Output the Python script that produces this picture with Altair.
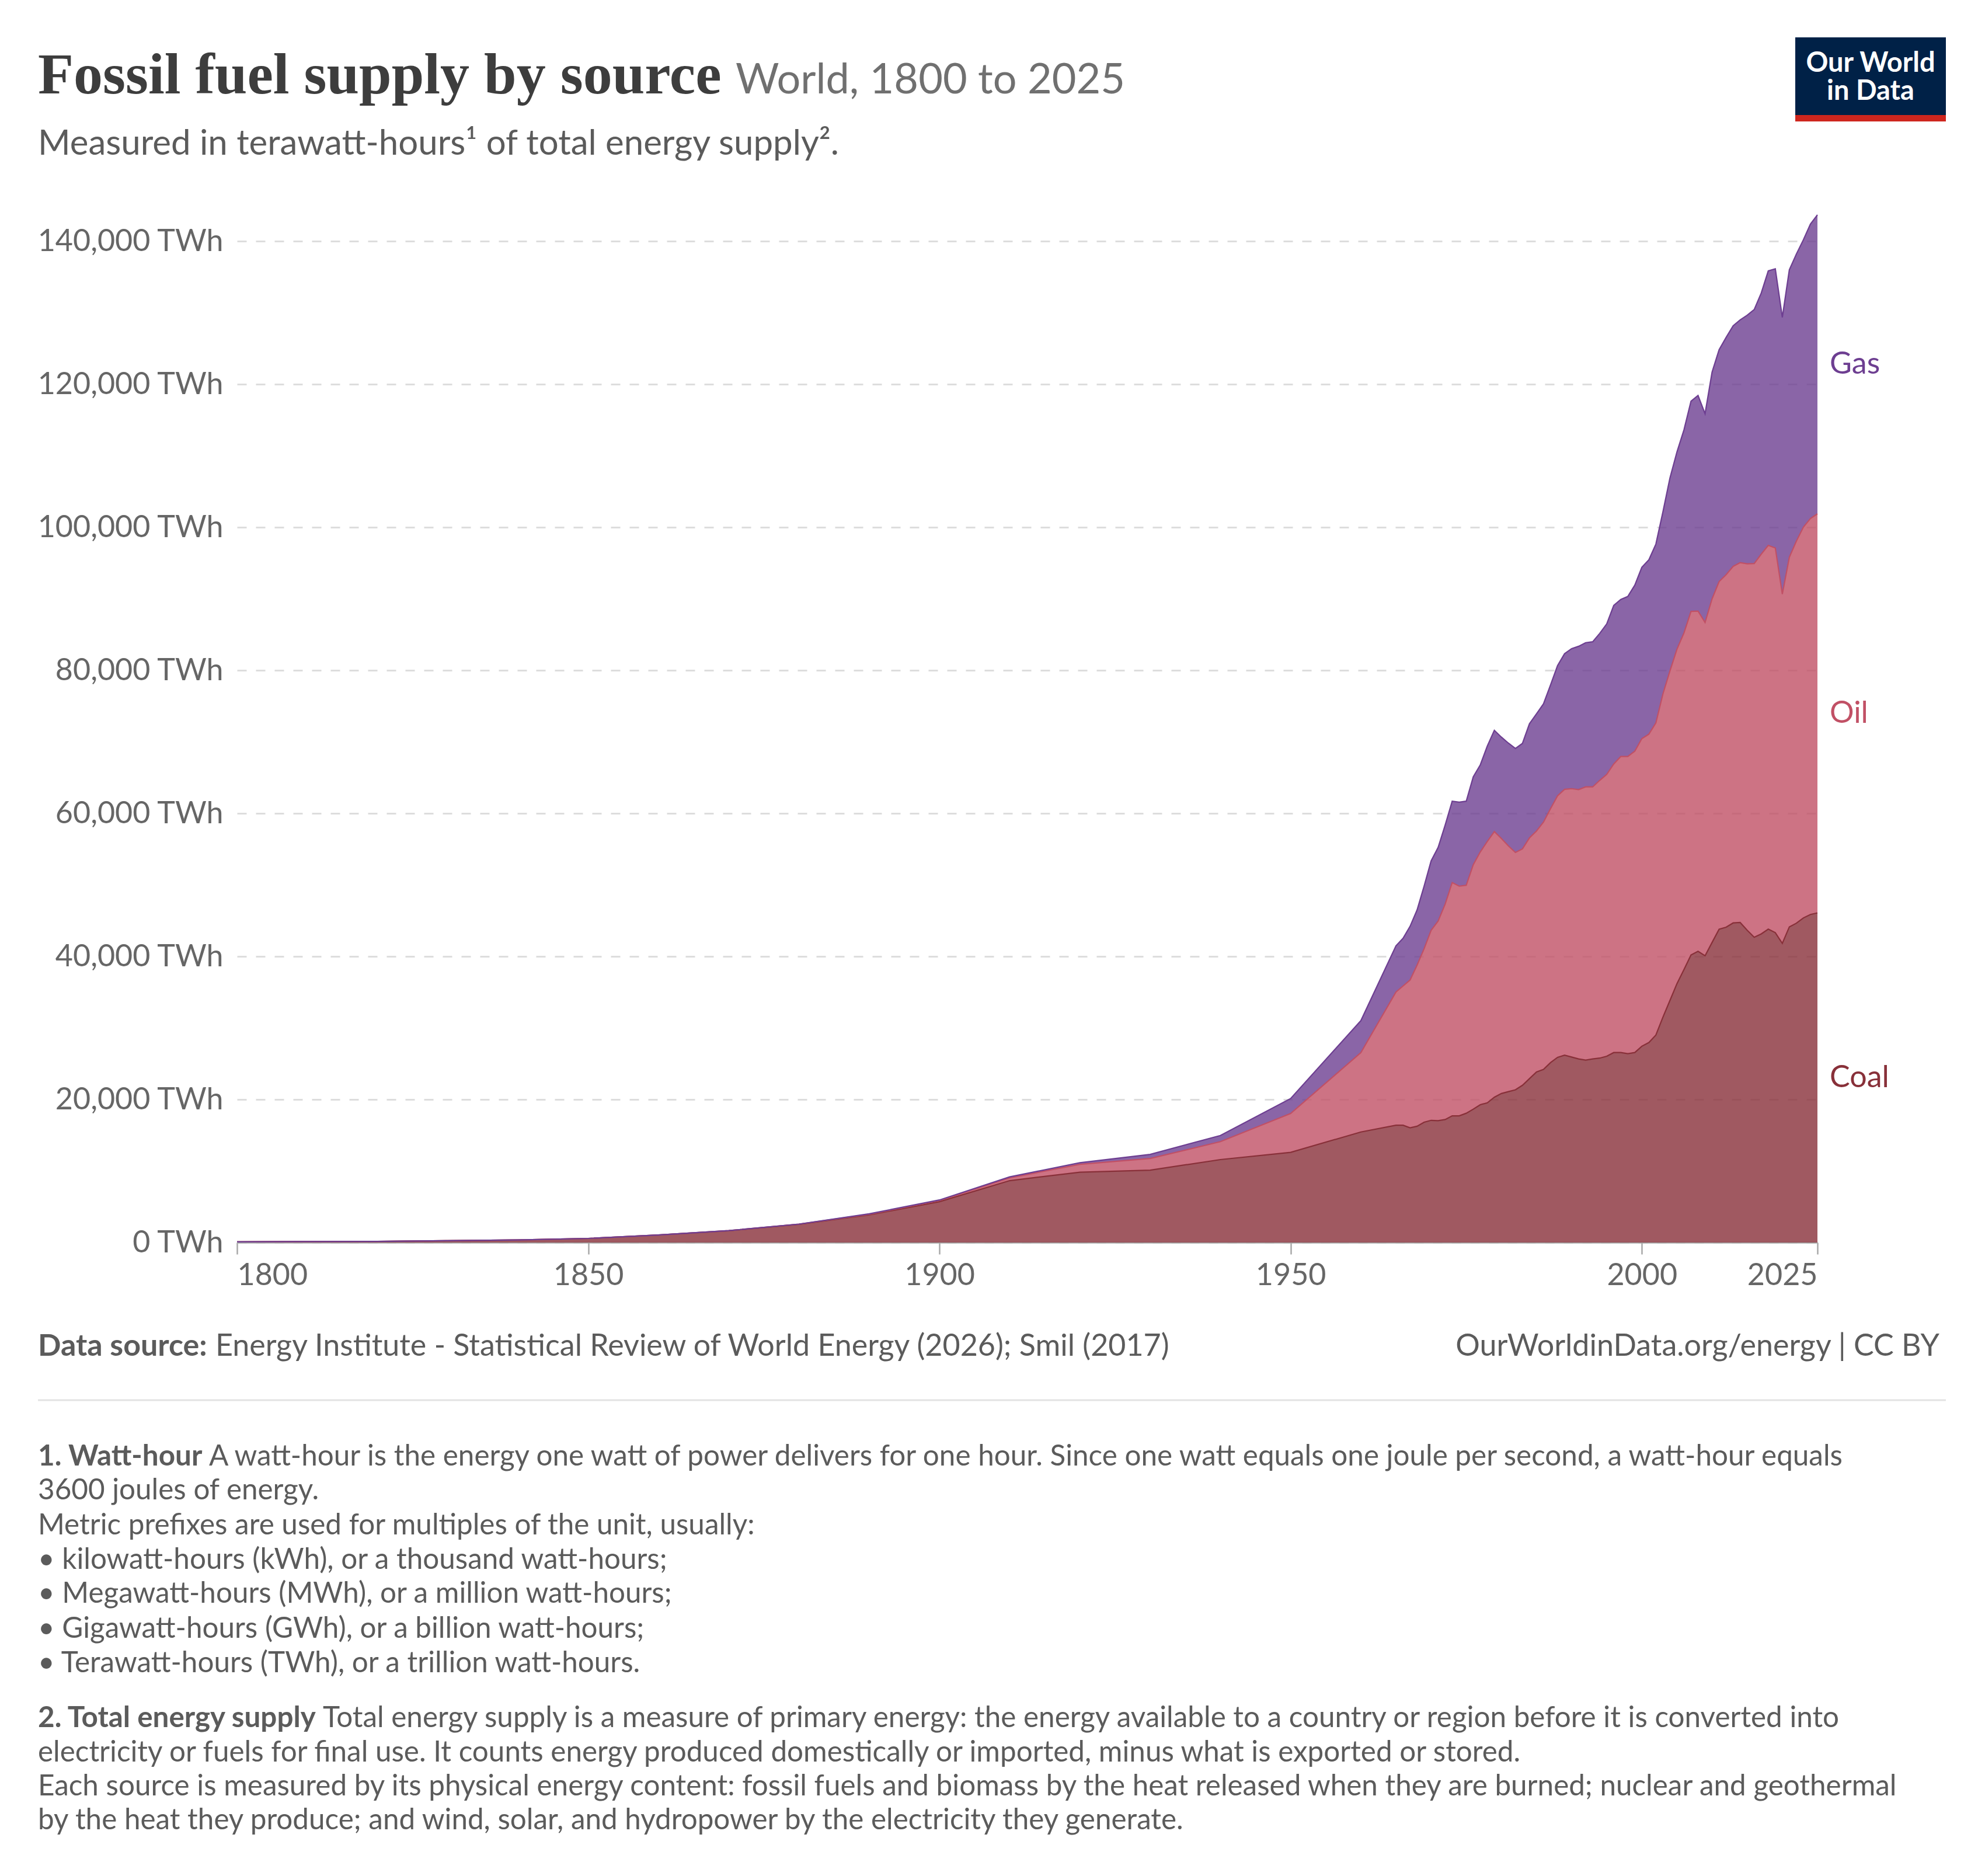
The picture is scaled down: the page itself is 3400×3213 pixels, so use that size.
import altair as alt
import pandas as pd

# ---------------- data (TWh) ----------------
years_early = [1800, 1810, 1820, 1830, 1840, 1850, 1860, 1870, 1880, 1890,
               1900, 1910, 1920, 1930, 1940, 1950, 1960]
coal_early = [100, 130, 150, 260, 360, 570, 1050, 1650, 2540, 3860,
              5700, 8650, 9830, 10120, 11590, 12600, 15450]
oil_early = [0, 0, 0, 0, 0, 0, 0, 6, 33, 90,
             180, 380, 1100, 1620, 2510, 5440, 11100]
gas_early = [0, 0, 0, 0, 0, 0, 0, 0, 0, 64,
             64, 140, 230, 575, 865, 2090, 4470]

years_annual = list(range(1965, 2026))
coal_annual = [16400, 16400, 16040, 16250, 16820, 17080, 17030, 17190, 17710, 17710,
               18070, 18640, 19270, 19530, 20310, 20830, 21090, 21350, 21980, 22910,
               23850, 24210, 25150, 25880, 26190, 25930, 25670, 25510, 25670, 25780,
               26040, 26560, 26560, 26400, 26560, 27440, 27960, 29000, 31500, 33840,
               36190, 38160, 40200, 40720, 40090, 41950, 43800, 44080, 44680, 44740,
               43660, 42680, 43150, 43810, 43320, 41820, 44130, 44640, 45380, 45860,
               46080]
oil_annual = [18630, 19460, 20660, 22530, 24250, 26570, 27920, 30130, 32610, 32110,
              31880, 34180, 35340, 36540, 37140, 35660, 34360, 33180, 33050, 33660,
              33680, 34570, 35500, 36570, 37170, 37520, 37650, 38190, 38030, 38830,
              39410, 40350, 41390, 41550, 42140, 43010, 43110, 43660, 45200, 46070,
              46760, 47080, 48040, 47560, 46610, 48050, 48610, 49290, 49860, 50320,
              51240, 52250, 53100, 53660, 53790, 48840, 51680, 53430, 54640, 55360,
              55800]
gas_annual = [6460, 6670, 7500, 7710, 8750, 9710, 10290, 11040, 11380, 11750,
              11750, 12290, 12170, 13340, 14160, 14170, 14370, 14540, 14750, 15960,
              16380, 16540, 17300, 18210, 18960, 19580, 20040, 20160, 20290, 20550,
              21040, 22160, 21960, 22380, 23210, 23960, 24380, 24990, 25440, 26970,
              27580, 28390, 29390, 30150, 29180, 31700, 32420, 33180, 33640, 33940,
              34750, 35520, 36500, 38380, 39020, 38690, 40190, 40130, 40180, 41170,
              41800]

sources = ["Coal", "Oil", "Gas"]
source_colors = ["#883039", "#C15065", "#6D3E91"]
x_ticks = [1800, 1850, 1900, 1950, 2000, 2025]
y_ticks = [0, 20000, 40000, 60000, 80000, 100000, 120000, 140000]

years = years_early + years_annual
series = {
    "Coal": coal_early + coal_annual,
    "Oil": oil_early + oil_annual,
    "Gas": gas_early + gas_annual,
}

rows = []
for k, s in enumerate(sources):
    for yr, v in zip(years, series[s]):
        rows.append({"year": yr, "source": s, "k": k, "value": v})
df = pd.DataFrame(rows)
y_max = sum(series[s][-1] for s in sources)

# ---------------- styles ----------------
W, H = 2707, 1760
FONT = "Lato"
GREY = "#5b5b5b"
AXIS_GREY = "#666666"

color_scale = alt.Scale(domain=sources, range=source_colors)
x_scale = alt.Scale(domain=[1800, 2025], nice=False, zero=False)
y_scale = alt.Scale(domain=[0, y_max], nice=False)

base = alt.Chart(df)

areas = base.mark_area(fillOpacity=0.8, line={"strokeWidth": 2.2}).encode(
    x=alt.X("year:Q", scale=x_scale,
            axis=alt.Axis(values=x_ticks, format="d", title=None, labelFlush=True,
                          labelOverlap=False, tickSize=20, tickWidth=2.5,
                          tickColor="#a8a8a8", domainColor="#a8a8a8", domainWidth=2.5,
                          labelPadding=52, labelBaseline="alphabetic", grid=False,
                          labelFontSize=52, labelColor=AXIS_GREY, labelFont=FONT,
                          labelLimit=1000)),
    y=alt.Y("value:Q", stack="zero", scale=y_scale,
            axis=alt.Axis(values=y_ticks, title=None, domain=False, ticks=False,
                          tickSize=0, labelPadding=24, grid=True, gridDash=[16, 16],
                          gridColor="#dddddd", gridWidth=3,
                          labelExpr="format(datum.value, ',') + ' TWh'",
                          labelFontSize=52, labelColor=AXIS_GREY, labelFont=FONT,
                          labelBaseline="middle", labelLimit=1000)),
    color=alt.Color("source:N", scale=color_scale, legend=None),
    order=alt.Order("k:Q", sort="ascending"),
)

labels = base.transform_filter(
    alt.datum.year == 2025
).transform_stack(
    stack="value", groupby=["year"], sort=[alt.SortField("k", order="ascending")],
    as_=["v0", "v1"]
).transform_calculate(
    mid="(datum.v0 + datum.v1) / 2"
).mark_text(align="left", baseline="middle", dx=21, font=FONT, fontSize=52).encode(
    x=alt.X("year:Q", scale=x_scale),
    y=alt.Y("mid:Q", scale=y_scale),
    text="source:N",
    color=alt.Color("source:N", scale=color_scale, legend=None),
)


def txt(s, x, y, size, color, weight="normal", font=FONT, align="left"):
    return alt.Chart(alt.Data(values=[{"a": 1}])).mark_text(
        text=s, font=font, fontSize=size, fontWeight=weight, color=color,
        align=align, baseline="alphabetic"
    ).encode(x=alt.value(x), y=alt.value(y))


def box(x, x2, y, y2, color):
    return alt.Chart(alt.Data(values=[{"a": 1}])).mark_rect(color=color).encode(
        x=alt.value(x), x2=alt.value(x2), y=alt.value(y), y2=alt.value(y2))


L = -341
texts = [
    txt("Fossil fuel supply by source", L, -208, 100, "#3d3d3d", "bold", "Liberation Serif"),
    txt("World, 1800 to 2025", 854, -208, 72, "#707070"),
    txt("Measured in terawatt-hours\u00b9 of total energy supply\u00b2.", L, -103, 60, GREY),
    box(2669, 2927, -304, -171, "#002147"),
    box(2669, 2927, -171, -160, "#ce261e"),
    txt("Our World", 2798, -245, 47, "#ffffff", "bold", align="center"),
    txt("in Data", 2798, -197, 47, "#ffffff", "bold", align="center"),
    txt("Data source:", L, 1954, 52, GREY, "bold"),
    txt("Energy Institute - Statistical Review of World Energy (2026); Smil (2017)", -37, 1954, 52, GREY),
    txt("OurWorldinData.org/energy | CC BY", 2916, 1954, 52, GREY, align="right"),
]

sep = alt.Chart(alt.Data(values=[{"a": 1}])).mark_rule(color="#e3e3e3", strokeWidth=3).encode(
    x=alt.value(L), x2=alt.value(2927), y=alt.value(2030))

NS = 49.4
notes = [
    txt("1. Watt-hour", L, 2142, NS, GREY, "bold"),
    txt("A watt-hour is the energy one watt of power delivers for one hour. Since one watt equals one joule per second, a watt-hour equals", -48, 2142, NS, GREY),
    txt("3600 joules of energy.", L, 2200, NS, GREY),
    txt("Metric prefixes are used for multiples of the unit, usually:", L, 2260, NS, GREY),
    txt("\u2022 kilowatt-hours (kWh), or a thousand watt-hours;", L, 2319, NS, GREY),
    txt("\u2022 Megawatt-hours (MWh), or a million watt-hours;", L, 2377, NS, GREY),
    txt("\u2022 Gigawatt-hours (GWh), or a billion watt-hours;", L, 2437, NS, GREY),
    txt("\u2022 Terawatt-hours (TWh), or a trillion watt-hours.", L, 2496, NS, GREY),
    txt("2. Total energy supply", L, 2590, NS, GREY, "bold"),
    txt("Total energy supply is a measure of primary energy: the energy available to a country or region before it is converted into", 147, 2590, NS, GREY),
    txt("electricity or fuels for final use. It counts energy produced domestically or imported, minus what is exported or stored.", L, 2649, NS, GREY),
    txt("Each source is measured by its physical energy content: fossil fuels and biomass by the heat released when they are burned; nuclear and geothermal", L, 2707, NS, GREY),
    txt("by the heat they produce; and wind, solar, and hydropower by the electricity they generate.", L, 2765, NS, GREY),
]

chart = alt.layer(areas, labels, sep, *texts, *notes).properties(
    width=W, height=H,
    background="#ffffff",
    autosize=alt.AutoSizeParams(type="none"),
    padding={"left": 398, "top": 360, "right": 279, "bottom": 1077},
).configure_view(strokeWidth=0, stroke="transparent")

chart.save("out.html", embed_options={"renderer": "svg", "actions": False})
